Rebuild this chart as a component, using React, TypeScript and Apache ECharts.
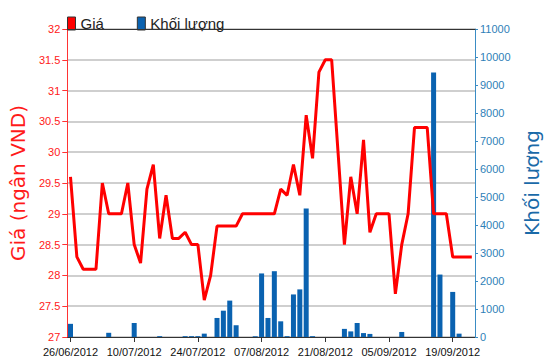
import React, { useEffect, useRef } from "react";
import * as echarts from "echarts";

const dates = [
  "26/06/2012", "27/06/2012", "28/06/2012", "29/06/2012", "02/07/2012", "03/07/2012", "04/07/2012", "05/07/2012", "06/07/2012", "09/07/2012",
  "10/07/2012", "11/07/2012", "12/07/2012", "13/07/2012", "16/07/2012", "17/07/2012", "18/07/2012", "19/07/2012", "20/07/2012", "23/07/2012",
  "24/07/2012", "25/07/2012", "26/07/2012", "27/07/2012", "30/07/2012", "31/07/2012", "01/08/2012", "02/08/2012", "03/08/2012", "06/08/2012",
  "07/08/2012", "08/08/2012", "09/08/2012", "10/08/2012", "13/08/2012", "14/08/2012", "15/08/2012", "16/08/2012", "17/08/2012", "20/08/2012",
  "21/08/2012", "22/08/2012", "23/08/2012", "24/08/2012", "27/08/2012", "28/08/2012", "29/08/2012", "30/08/2012", "31/08/2012", "04/09/2012",
  "05/09/2012", "06/09/2012", "07/09/2012", "10/09/2012", "11/09/2012", "12/09/2012", "13/09/2012", "14/09/2012", "17/09/2012", "18/09/2012",
  "19/09/2012", "20/09/2012", "21/09/2012", "24/09/2012",
];

const price = [
  29.6, 28.3, 28.1, 28.1, 28.1, 29.5, 29.0, 29.0, 29.0, 29.5,
  28.5, 28.2, 29.4, 29.8, 28.6, 29.3, 28.6, 28.6, 28.7, 28.5,
  28.5, 27.6, 28.0, 28.8, 28.8, 28.8, 28.8, 29.0, 29.0, 29.0,
  29.0, 29.0, 29.0, 29.4, 29.3, 29.8, 29.3, 30.6, 29.9, 31.3,
  31.5, 31.5, 30.0, 28.5, 29.6, 29.0, 30.2, 28.7, 29.0, 29.0,
  29.0, 27.7, 28.5, 29.0, 30.4, 30.4, 30.4, 29.0, 29.0, 29.0,
  28.3, 28.3, 28.3, 28.3,
];

const volume = [
  470, 0, 0, 0, 0, 0, 150, 0, 0, 0,
  500, 0, 0, 0, 30, 0, 0, 0, 30, 30,
  30, 120, 0, 680, 940, 1300, 420, 0, 0, 30,
  2270, 680, 2350, 560, 30, 1520, 1700, 4590, 30, 0,
  0, 0, 0, 290, 200, 500, 140, 110, 0, 0,
  0, 0, 180, 0, 0, 0, 0, 9450, 2230, 0,
  1610, 120, 0, 0,
];

const seriesNames = ["Giá", "Khối lượng"];
const axisNames = ["Giá (ngân VND)", "Khối lượng"];

const SANS = '"Liberation Sans", Arial, sans-serif';
const WIDE = '"DejaVu Sans", Verdana, sans-serif';

export default function App() {
  const ref = useRef<HTMLDivElement>(null);
  useEffect(() => {
    if (!ref.current) return;
    const chart = echarts.init(ref.current, null, { renderer: "svg" });
    chart.setOption({
      animation: false,
      backgroundColor: "#ffffff",
      grid: {
        left: 60,
        right: 71,
        top: 29,
        bottom: 27,
      },
      legend: {
        left: 62,
        top: 11,
        itemWidth: 8,
        itemHeight: 13,
        itemGap: 33,
        icon: "rect",
        textStyle: { fontFamily: SANS, fontSize: 15, color: "#222" },
        data: [
          { name: seriesNames[0], itemStyle: { color: "#ff0000", borderColor: "#333", borderWidth: 1 } },
          { name: seriesNames[1], itemStyle: { color: "#0a62b0", borderColor: "#333", borderWidth: 1 } },
        ],
      },
      xAxis: [
        {
          type: "category",
          data: dates,
          boundaryGap: true,
          axisLine: { lineStyle: { color: "#333333", width: 1 } },
          axisTick: { show: true, interval: 9, alignWithLabel: true, length: 5, lineStyle: { color: "#333" } },
          axisLabel: {
            interval: 9,
            color: "#111",
            fontFamily: SANS,
            fontSize: 11,
            margin: 9,
          },
          splitLine: { show: false },
        },
        {
          type: "category",
          data: dates,
          position: "top",
          boundaryGap: true,
          axisLine: { show: true, lineStyle: { color: "#333333", width: 1 } },
          axisTick: { show: false },
          axisLabel: { show: false },
          splitLine: { show: false },
          z: 10,
        },
      ],
      yAxis: [
        {
          type: "value",
          min: 27,
          max: 32,
          interval: 0.5,
          position: "left",
          name: axisNames[0],
          nameLocation: "middle",
          nameRotate: 90,
          nameGap: 33,
          nameTextStyle: { color: "#ff1a1a", fontFamily: WIDE, fontSize: 20 },
          axisLine: { show: true, lineStyle: { color: "#ff3333", width: 1 } },
          axisTick: { show: true, length: 5, lineStyle: { color: "#ff3333" } },
          axisLabel: { color: "#ff2020", fontFamily: SANS, fontSize: 11, margin: 7 },
          splitLine: { show: true, lineStyle: { color: "#cfcfcf", width: 2 } },
        },
        {
          type: "value",
          min: 0,
          max: 11000,
          interval: 1000,
          position: "right",
          name: axisNames[1],
          nameLocation: "middle",
          nameRotate: 90,
          nameGap: 47,
          nameTextStyle: { color: "#1a6aa8", fontFamily: WIDE, fontSize: 20 },
          axisLine: { show: true, lineStyle: { color: "#3a8cc4", width: 1 } },
          axisTick: { show: true, length: 3, lineStyle: { color: "#3a8cc4" } },
          axisLabel: {
            color: "#2f7fb8",
            fontFamily: SANS,
            fontSize: 11,
            margin: 5,
            formatter: (v: number) => String(v),
          },
          splitLine: { show: false },
        },
      ],
      series: [
        {
          name: seriesNames[1],
          type: "bar",
          yAxisIndex: 1,
          data: volume,
          barWidth: 5,
          itemStyle: { color: "#0a62b0" },
          z: 2,
        },
        {
          name: seriesNames[0],
          type: "line",
          yAxisIndex: 0,
          data: price,
          showSymbol: false,
          symbol: "none",
          lineStyle: { color: "#ff0000", width: 3 },
          itemStyle: { color: "#ff0000" },
          z: 3,
        },
      ],
    });
    return () => chart.dispose();
  }, []);
  return (
    <div
      ref={ref}
      style={{ position: "fixed", left: 0, top: 0, width: 550, height: 364 }}
    />
  );
}
